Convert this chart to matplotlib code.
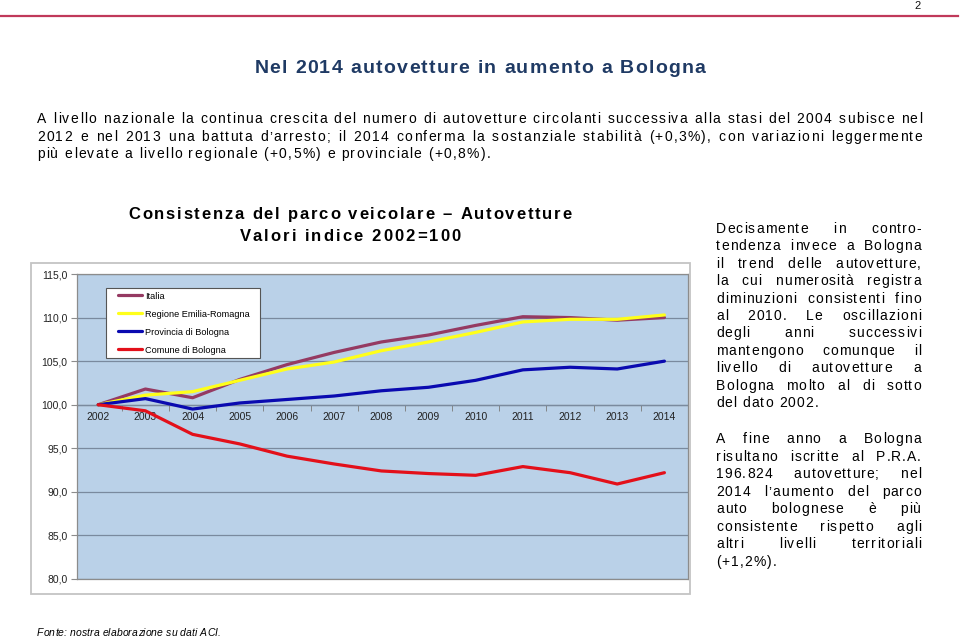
import matplotlib
matplotlib.use('Agg')
import matplotlib.pyplot as plt
from matplotlib.font_manager import FontProperties
from matplotlib.patches import Rectangle
from matplotlib.legend_handler import HandlerLine2D
import numpy as np

# ---------------- data ----------------
years = ['2002', '2003', '2004', '2005', '2006', '2007', '2008',
         '2009', '2010', '2011', '2012', '2013', '2014']
italia = [100.0, 101.8, 100.8, 102.9, 104.6, 106.0, 107.2, 108.0, 109.1, 110.1, 110.0, 109.7, 110.0]
regione = [100.0, 101.1, 101.5, 102.8, 104.1, 104.9, 106.2, 107.2, 108.3, 109.5, 109.8, 109.8, 110.3]
provincia = [100.0, 100.7, 99.5, 100.2, 100.6, 101.0, 101.6, 102.0, 102.8, 104.0, 104.3, 104.1, 105.0]
comune = [100.0, 99.3, 96.6, 95.5, 94.1, 93.2, 92.4, 92.1, 91.9, 92.9, 92.2, 90.9, 92.2]
series_labels = ['Italia', 'Regione Emilia-Romagna', 'Provincia di Bologna', 'Comune di Bologna']
series_colors = ['#953A62', '#FFFF1A', '#0A0AB0', '#E3101A']
yticks = [80, 85, 90, 95, 100, 105, 110, 115]
base_value = 100

W, H = 960, 637
plt.rcParams['font.family'] = ['Liberation Sans', 'DejaVu Sans']
fig = plt.figure(figsize=(9.6, 6.37), dpi=100)
fig.patch.set_facecolor('white')
renderer = fig.canvas.get_renderer()

_cache = {}
def adv(ch, prop):
    key = (ch, prop.get_size_in_points(), prop.get_weight(), prop.get_style())
    if key not in _cache:
        w1 = renderer.get_text_width_height_descent('|' + ch + '|', prop, ismath=False)[0]
        w0 = renderer.get_text_width_height_descent('||', prop, ismath=False)[0]
        _cache[key] = w1 - w0
    return _cache[key]

def word_w(w, prop, tr):
    return sum(adv(c, prop) for c in w) + tr * (len(w) - 1)

def draw_line(s, x0, yb, prop, color='#111111', tr=0.5, x1=None, center=None):
    words = s.split(' ')
    ws = [word_w(w, prop, tr) for w in words]
    if x1 is not None and len(words) > 1:
        gap = (x1 - x0 - sum(ws)) / (len(words) - 1)
    else:
        gap = adv(' ', prop) + 2 * tr
    total = sum(ws) + gap * (len(words) - 1)
    if center is not None:
        x0 = center - total / 2
    x = x0
    for w, ww in zip(words, ws):
        xc = x
        for c in w:
            fig.text(xc / W, 1 - yb / H, c, fontproperties=prop, color=color,
                     va='baseline', ha='left')
            xc += adv(c, prop) + tr
        x += ww + gap

# ---------------- page decorations ----------------
fig.add_artist(plt.Line2D([0, 958 / W], [1 - 16 / H, 1 - 16 / H], color='#C0395A', lw=1.6))
draw_line('2', 914, 9, FontProperties(family='Liberation Sans', size=8), tr=0)

title_prop = FontProperties(family='Liberation Sans', size=14, weight='bold')
draw_line('Nel 2014 autovetture in aumento a Bologna', 0, 73, title_prop,
          color='#1F3A64', tr=1.3, center=480)

para_prop = FontProperties(family='Liberation Sans', size=10)
para = ['A livello nazionale la continua crescita del numero di autovetture circolanti successiva alla stasi del 2004 subisce nel',
        '2012 e nel 2013 una battuta d\u2019arresto; il 2014 conferma la sostanziale stabilità (+0,3%), con variazioni leggermente',
        'più elevate a livello regionale (+0,5%) e provinciale (+0,8%).']
for i, line in enumerate(para):
    draw_line(line, 37, 123 + i * 17.6, para_prop, color='#000000', tr=1.35,
              x1=922 if i < len(para) - 1 else None)

side_prop = FontProperties(family='Liberation Sans', size=10)
side1 = ['Decisamente in contro-', 'tendenza invece a Bologna', 'il trend delle autovetture,',
         'la cui numerosità registra', 'diminuzioni consistenti fino', 'al 2010. Le oscillazioni',
         'degli anni successivi', 'mantengono comunque il', 'livello di autovetture a',
         'Bologna molto al di sotto', 'del dato 2002.']
side2 = ['A fine anno a Bologna', 'risultano iscritte al P.R.A.', '196.824 autovetture; nel',
         '2014 l\u2019aumento del parco', 'auto bolognese è più', 'consistente rispetto agli',
         'altri livelli territoriali', '(+1,2%).']
for i, line in enumerate(side1):
    draw_line(line, 716, 233 + i * 17.4, side_prop, color='#000000', tr=1.05,
              x1=921 if i < len(side1) - 1 else None)
for i, line in enumerate(side2):
    draw_line(line, 716, 443 + i * 17.57, side_prop, color='#000000', tr=1.05,
              x1=921 if i < len(side2) - 1 else None)

draw_line('Fonte: nostra elaborazione su dati ACI.', 37, 636,
          FontProperties(family='Liberation Sans', size=7.5, style='italic'), color='#000000', tr=0.1)

# ---------------- chart ----------------
fig.add_artist(Rectangle((31 / W, 1 - 594 / H), (690 - 31) / W, (594 - 263) / H,
                         transform=fig.transFigure, fill=False, edgecolor='#C4C4C4', lw=1.3))
ct_prop = FontProperties(family='Liberation Sans', size=12, weight='bold')
draw_line('Consistenza del parco veicolare \u2013 Autovetture', 0, 219, ct_prop, color='#000000', tr=1.8, center=350)
draw_line('Valori indice 2002=100', 0, 241, ct_prop, color='#000000', tr=2.1, center=350)

ax = fig.add_axes([77 / W, 1 - 579 / H, (688 - 77) / W, (579 - 274) / H])
ax.set_facecolor('#BAD1E8')
x = np.arange(len(years))
for vals, lab, col in zip([italia, regione, provincia, comune], series_labels, series_colors):
    ax.plot(x, vals, color=col, lw=2.3, label=lab, solid_joinstyle='round', solid_capstyle='round')
ax.set_xlim(-0.45, len(years) - 0.5)
ax.set_ylim(min(yticks), max(yticks))
ax.set_yticks(yticks)
ax.set_yticklabels([f'{v:.1f}'.replace('.', ',') for v in yticks])
ax.yaxis.grid(True, color='#7A8A9E', lw=0.9)
ax.set_axisbelow(True)
for sp in ax.spines.values():
    sp.set_color('#8C8C8C')
    sp.set_linewidth(0.9)
ax.tick_params(axis='x', which='both', bottom=False, labelbottom=False)
ax.tick_params(axis='y', length=4, color='#8C8C8C', labelsize=7.5, pad=3, labelcolor='#222222')

loc = (base_value - min(yticks)) / (max(yticks) - min(yticks))
sec = ax.secondary_xaxis(loc)
sec.set_alignment('bottom')
sec.set_xticks(x, labels=years)
sec.set_xticks(np.arange(len(years) + 1) - 0.5, minor=True)
sec.tick_params(which='major', length=0, labelsize=7.5, pad=5, labelcolor='#222222')
sec.tick_params(which='minor', length=4, color='#7A7A7A', direction='out')
for sp in sec.spines.values():
    sp.set_color('#7A7A7A')
    sp.set_linewidth(0.9)

LINE_PT = 24 * 72 / 100.0

class ShiftedLine(HandlerLine2D):
    def create_artists(self, legend, orig_handle, xdescent, ydescent, width, height, fontsize, trans):
        arts = super().create_artists(legend, orig_handle, xdescent, ydescent, width, height, fontsize, trans)
        for a in arts:
            yd = np.asarray(a.get_ydata(), dtype=float)
            a.set_data([width - xdescent - LINE_PT, width - xdescent], [yd[0], yd[0]])
        return arts

leg = ax.legend(loc='upper left', bbox_to_anchor=(106 / W, 1 - 357 / H, 154 / W, 69 / H),
                bbox_transform=fig.transFigure, mode='expand',
                frameon=True, fancybox=False, edgecolor='#555555', framealpha=1, fontsize=6.6,
                handlelength=3.5, handletextpad=0.32, labelspacing=0.98, borderpad=0.4, borderaxespad=0,
                handler_map={plt.Line2D: ShiftedLine()})
leg.get_frame().set_linewidth(0.8)

fig.savefig('out.png', dpi=100, facecolor='white')
